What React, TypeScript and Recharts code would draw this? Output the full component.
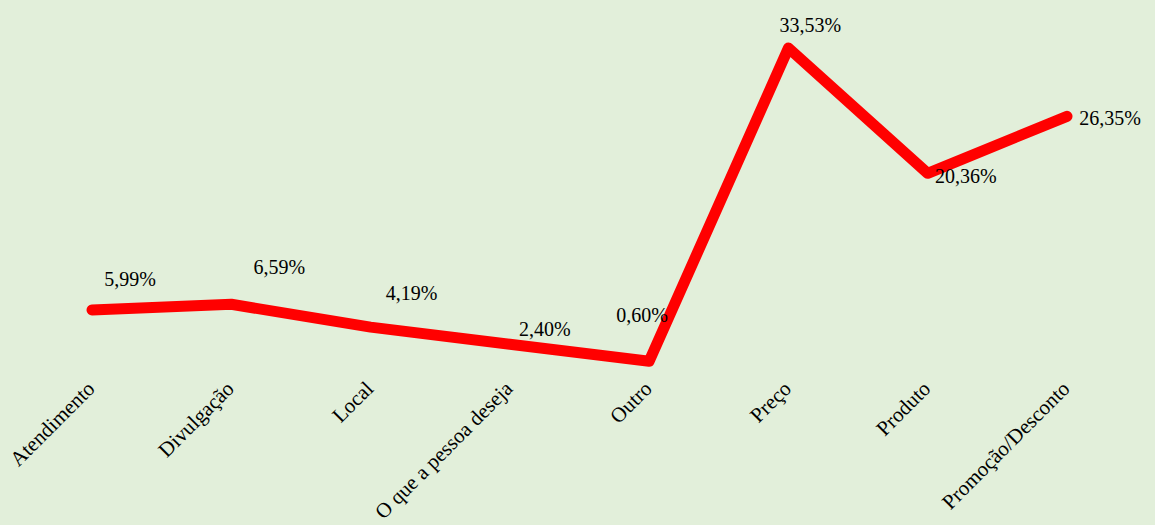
import { LineChart, Line, XAxis, YAxis, LabelList } from 'recharts';

const categories = [
  'Atendimento',
  'Divulgação',
  'Local',
  'O que a pessoa deseja',
  'Outro',
  'Preço',
  'Produto',
  'Promoção/Desconto',
];
const shares = [5.99, 6.59, 4.19, 2.4, 0.6, 33.53, 20.36, 26.35];

const data = categories.map((name, i) => ({ name, value: shares[i] }));

// label nudges (text centre relative to the point), like the hand-placed Excel labels
const LABEL_NUDGE: [number, number][] = [
  [38, -31],
  [48, -37],
  [41, -34],
  [35, -15],
  [-7, -46],
  [22, -23],
  [38, 3],
  [43, 2],
];

const FONT = '"Liberation Serif", "Times New Roman", serif';

const fmt = (v: number) => v.toFixed(2).replace('.', ',') + '%';

function ValueLabel(props: any) {
  const { x, y, value, index } = props;
  const [dx, dy] = LABEL_NUDGE[index] ?? [0, -20];
  return (
    <text
      x={x + dx}
      y={y + dy}
      textAnchor="middle"
      dominantBaseline="central"
      fontFamily={FONT}
      fontSize={20}
      fill="#000"
    >
      {fmt(value)}
    </text>
  );
}

function CategoryTick(props: any) {
  const { x, y, payload } = props;
  return (
    <text
      transform={`translate(${x + 4},${y + 15}) rotate(-45)`}
      textAnchor="end"
      fontFamily={FONT}
      fontSize={21}
      fill="#000"
    >
      {payload.value}
    </text>
  );
}

export default function App() {
  return (
    <div
      style={{
        position: 'fixed',
        left: 0,
        top: 0,
        width: 1155,
        height: 525,
        background: '#E2EFDA',
      }}
    >
      <LineChart
        width={1155}
        height={525}
        data={data}
        margin={{ top: 34, right: 18, bottom: 0, left: 22 }}
      >
        <XAxis
          dataKey="name"
          scale="point"
          padding={{ left: 70, right: 70 }}
          axisLine={false}
          tickLine={false}
          interval={0}
          height={158}
          tick={<CategoryTick />}
        />
        <YAxis hide domain={[0, 35]} />
        <Line
          type="linear"
          dataKey="value"
          stroke="#FF0000"
          strokeWidth={11}
          strokeLinecap="round"
          strokeLinejoin="round"
          dot={false}
          activeDot={false}
          isAnimationActive={false}
        >
          <LabelList dataKey="value" content={<ValueLabel />} />
        </Line>
      </LineChart>
    </div>
  );
}
